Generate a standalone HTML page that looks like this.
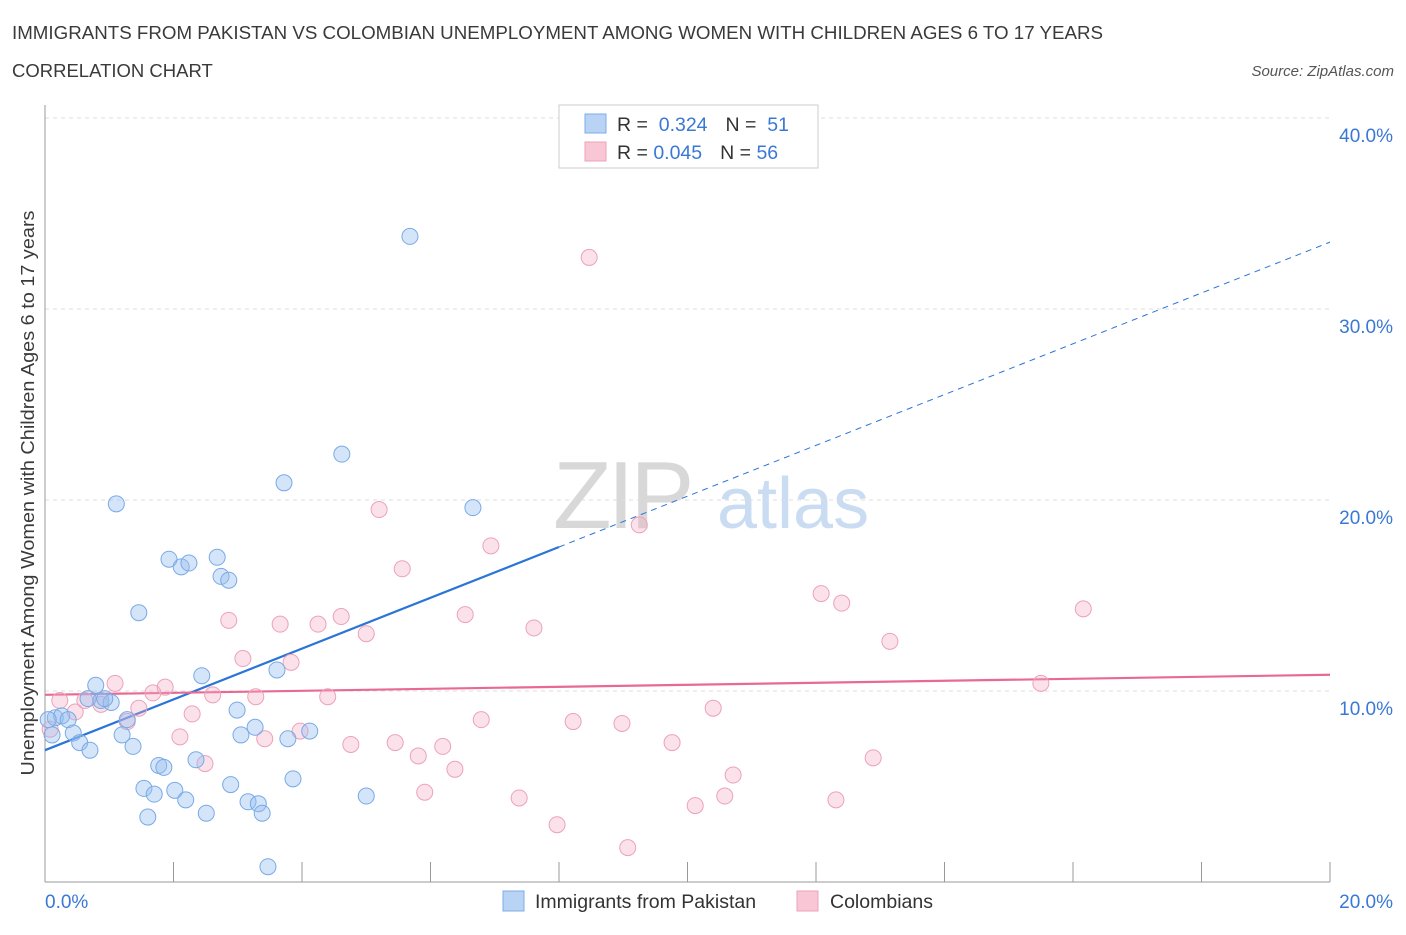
<!DOCTYPE html>
<html><head><meta charset="utf-8"><style>
body{margin:0;background:#fff;font-family:"Liberation Sans",sans-serif;}
svg text{font-family:"Liberation Sans",sans-serif;}
</style></head><body>
<svg id="chart" width="1406" height="930" xmlns="http://www.w3.org/2000/svg">
<text x="12" y="39" font-size="18" fill="#3a3a3a" textLength="1091" lengthAdjust="spacingAndGlyphs">IMMIGRANTS FROM PAKISTAN VS COLOMBIAN UNEMPLOYMENT AMONG WOMEN WITH CHILDREN AGES 6 TO 17 YEARS</text>
<text x="12" y="77" font-size="18.5" fill="#3a3a3a">CORRELATION CHART</text>
<text x="1394" y="76" font-size="15" fill="#555" font-style="italic" text-anchor="end">Source: ZipAtlas.com</text>
<g>
<text x="553" y="528" font-size="96" fill="#d8d8d8" font-family="Liberation Serif" letter-spacing="-4">ZIP</text>
<text x="717" y="528" font-size="72" fill="#c9dcf2">atlas</text>
</g>
<g id="grid"></g>
<g id="axes"></g>
<g id="lines"></g>
<g id="points"></g>
<text transform="translate(34,493) rotate(-90)" font-size="18" fill="#3a3a3a" text-anchor="middle" textLength="565" lengthAdjust="spacingAndGlyphs">Unemployment Among Women with Children Ages 6 to 17 years</text>
<g>
<rect x="559" y="105" width="259" height="63" fill="#fff" stroke="#ccc"/>
<rect x="585" y="114" width="21" height="19" fill="#b9d3f5" stroke="#7aaee8"/>
<rect x="585" y="142" width="21" height="19" fill="#f9c6d6" stroke="#eda2b8"/>
<text x="617" y="131" font-size="19.5" fill="#333">R = <tspan fill="#3a78d4">&#160;0.324</tspan><tspan dx="18">N = </tspan><tspan fill="#3a78d4">&#160;51</tspan></text>
<text x="617" y="159" font-size="19.5" fill="#333">R = <tspan fill="#3a78d4">0.045</tspan><tspan dx="18">N = </tspan><tspan fill="#3a78d4">56</tspan></text>
</g>
<g>
<rect x="503" y="891" width="21" height="20" fill="#b9d3f5" stroke="#7aaee8"/>
<text x="535" y="908" font-size="19.5" fill="#333">Immigrants from Pakistan</text>
<rect x="797" y="891" width="21" height="20" fill="#f9c6d6" stroke="#eda2b8"/>
<text x="830" y="908" font-size="19.5" fill="#333">Colombians</text>
</g>
</svg>
<script>
const yTicks=[10,20,30,40];
const yTickLabels=["10.0%","20.0%","30.0%","40.0%"];
const xTicks=[0,2,4,6,8,10,12,14,16,18,20];
const blueX=[5.68,4.62,3.72,1.11,6.66,1.93,2.12,2.24,2.68,2.74,2.86,1.46,2.44,3.61,0.79,0.67,0.87,1.03,0.93,0.16,0.26,0.36,0.05,0.11,0.44,0.54,0.70,1.20,1.37,1.28,2.99,3.05,3.27,3.78,4.12,1.77,1.85,2.35,3.86,2.89,1.54,1.70,2.02,2.19,3.16,3.32,5.00,1.60,2.51,3.38,3.47];
const blueY=[33.8,22.4,20.9,19.8,19.6,16.9,16.5,16.7,17.0,16.0,15.8,14.1,10.8,11.1,10.3,9.6,9.5,9.4,9.6,8.6,8.7,8.5,8.5,7.7,7.8,7.3,6.9,7.7,7.1,8.5,9.0,7.7,8.1,7.5,7.9,6.1,6.0,6.4,5.4,5.1,4.9,4.6,4.8,4.3,4.2,4.1,4.5,3.4,3.6,3.6,0.8];
const pinkX=[8.47,5.20,9.25,6.94,5.56,12.08,12.40,16.16,6.54,2.86,3.66,4.25,4.61,5.00,7.61,13.15,3.08,3.83,1.09,1.68,1.87,2.61,3.28,4.40,0.23,0.62,0.87,1.46,2.29,1.28,10.40,15.50,6.79,8.22,8.98,3.97,2.10,3.42,4.76,5.45,6.19,5.81,9.76,2.49,12.89,6.38,10.71,5.91,7.38,10.58,10.12,12.31,7.97,9.07,0.08,0.47];
const pinkY=[32.7,19.5,18.7,17.6,16.4,15.1,14.6,14.3,14.0,13.7,13.5,13.5,13.9,13.0,13.3,12.6,11.7,11.5,10.4,9.9,10.2,9.8,9.7,9.7,9.5,9.5,9.3,9.1,8.8,8.4,9.1,10.4,8.5,8.4,8.3,7.9,7.6,7.5,7.2,7.3,7.1,6.6,7.3,6.2,6.5,5.9,5.6,4.7,4.4,4.5,4.0,4.3,3.0,1.8,8.0,8.9];
const blueTrend=[6.9,33.5];
const pinkTrend=[9.8,10.85];
const blueSolidEnd=8.0;
const NS="http://www.w3.org/2000/svg";
const X=v=>45+v*64.25, Y=v=>882-v*19.1;
function mk(tag,attrs,parent){const e=document.createElementNS(NS,tag);for(const k in attrs)e.setAttribute(k,attrs[k]);document.getElementById(parent).appendChild(e);return e;}
yTicks.forEach((t,i)=>{
 const g=mk('line',{x1:45,x2:1330,y1:Y(t),y2:Y(t),stroke:'#ddd','stroke-dasharray':'4,4'},'grid');
 
 
 const l=mk('text',{x:1393,y:Y(t)+24,'font-size':19,fill:'#3a78d4','text-anchor':'end'},'axes');
 l.textContent=yTickLabels[i];
 
 
});
const ax=mk('line',{x1:45,x2:45,y1:105,y2:882,stroke:'#999'},'axes');


const bx=mk('line',{x1:45,x2:1330,y1:882,y2:882,stroke:'#999'},'axes');


xTicks.forEach(t=>{
 const k=mk('line',{x1:X(t),x2:X(t),y1:862,y2:882,stroke:'#999'},'axes');
 
 
});
const xl0=mk('text',{x:45,y:908,'font-size':19,fill:'#3a78d4'},'axes');xl0.textContent='0.0%';


const xl1=mk('text',{x:1393,y:908,'font-size':19,fill:'#3a78d4','text-anchor':'end'},'axes');xl1.textContent='20.0%';


function pts(xs,ys,fill,stroke,name){xs.forEach((x,i)=>{
 const c=mk('circle',{cx:X(x),cy:Y(ys[i]),r:8,fill:fill,stroke:stroke,'stroke-width':1},'points');
 
 
});}
pts(pinkX,pinkY,'rgba(244,170,195,0.35)','#eda2b8','colombians-point');
pts(blueX,blueY,'rgba(150,190,240,0.4)','#78aae6','pakistan-point');
const bAt=x=>blueTrend[0]+(blueTrend[1]-blueTrend[0])*x/20;
const l1=mk('line',{x1:X(0),y1:Y(bAt(0)),x2:X(blueSolidEnd),y2:Y(bAt(blueSolidEnd)),stroke:'#2b74d8','stroke-width':2.2},'lines');


const l2=mk('line',{x1:X(blueSolidEnd),y1:Y(bAt(blueSolidEnd)),x2:X(20),y2:Y(bAt(20)),stroke:'#2b74d8','stroke-width':1,'stroke-dasharray':'6,5'},'lines');


const l3=mk('line',{x1:X(0),y1:Y(pinkTrend[0]),x2:X(20),y2:Y(pinkTrend[1]),stroke:'#e86a93','stroke-width':2.2},'lines');


</script>
</body></html>
